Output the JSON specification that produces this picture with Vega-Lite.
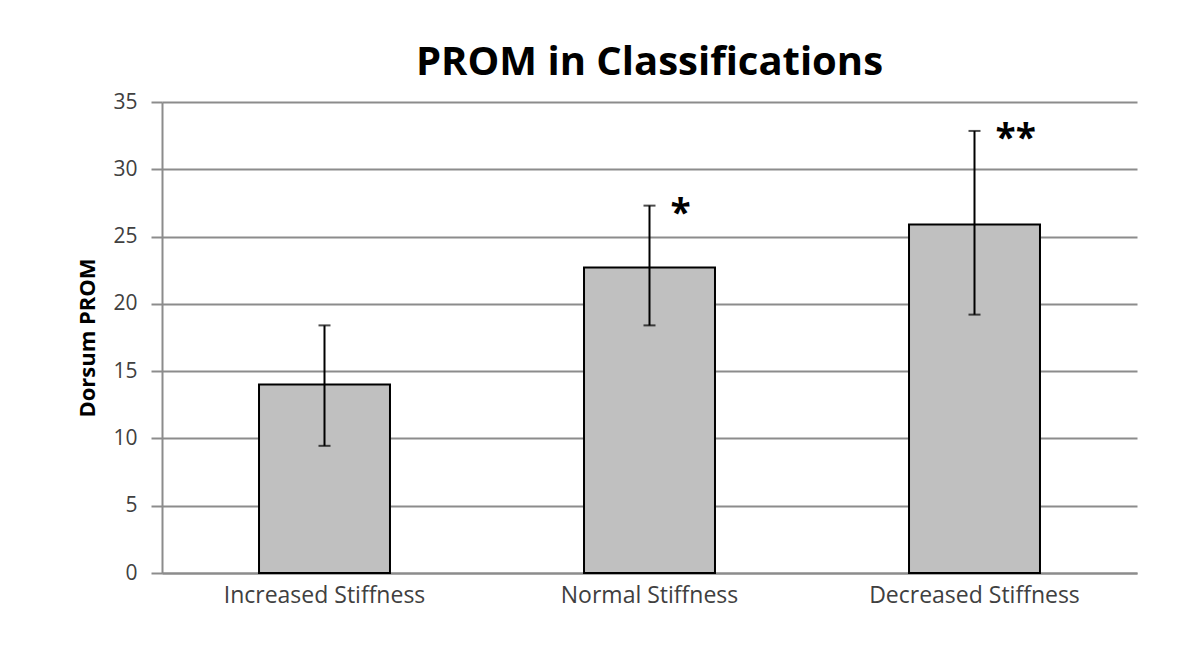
{
  "$schema": "https://vega.github.io/schema/vega-lite/v6.json",
  "width": 975,
  "height": 471,
  "autosize": {"type": "none"},
  "padding": {"left": 162, "top": 102, "right": 42, "bottom": 84},
  "background": "white",
  "title": {
    "text": "PROM in Classifications",
    "font": "Open Sans",
    "fontSize": 40,
    "fontWeight": "bold",
    "color": "#000000",
    "anchor": "middle",
    "offset": 8
  },
  "data": {
    "values": [
      {"cls": "Increased Stiffness", "mean": 14.0, "lo": 9.45, "hi": 18.4, "sig": ""},
      {"cls": "Normal Stiffness", "mean": 22.7, "lo": 18.4, "hi": 27.3, "sig": "*"},
      {"cls": "Decreased Stiffness", "mean": 25.9, "lo": 19.2, "hi": 32.85, "sig": "**"}
    ]
  },
  "encoding": {
    "x": {
      "field": "cls",
      "type": "nominal",
      "sort": null,
      "scale": {"paddingInner": 0.597, "paddingOuter": 0.2985},
      "axis": {
        "title": null,
        "labelAngle": 0,
        "labelFont": "Open Sans",
        "labelFontSize": 23,
        "labelLimit": 500,
        "labelColor": "#404040",
        "labelPadding": 11,
        "ticks": false,
        "domainColor": "#8c8c8c",
        "domainWidth": 2
      }
    }
  },
  "layer": [
    {
      "mark": {"type": "bar", "color": "#c0c0c0", "stroke": "#000000", "strokeWidth": 2},
      "encoding": {
        "y": {
          "field": "mean",
          "type": "quantitative",
          "scale": {"domain": [0, 35], "nice": false},
          "axis": {
            "title": "Dorsum PROM",
            "titleFont": "Open Sans",
            "titleFontSize": 22,
            "titleFontWeight": "bold",
            "titleColor": "#000000",
            "titlePadding": 13,
            "values": [0, 5, 10, 15, 20, 25, 30, 35],
            "labelFont": "Open Sans",
            "labelFontSize": 21,
            "labelColor": "#404040",
            "labelPadding": 14,
            "tickSize": 11,
            "tickColor": "#8c8c8c",
            "tickWidth": 2,
            "domainColor": "#8c8c8c",
            "domainWidth": 2,
            "grid": true,
            "gridColor": "#8c8c8c",
            "gridWidth": 2
          }
        }
      }
    },
    {
      "mark": {"type": "rule", "color": "#000000", "strokeWidth": 2},
      "encoding": {
        "y": {"field": "lo", "type": "quantitative"},
        "y2": {"field": "hi"}
      }
    },
    {
      "mark": {"type": "tick", "color": "#000000", "thickness": 2, "size": 12},
      "encoding": {"y": {"field": "hi", "type": "quantitative"}}
    },
    {
      "mark": {"type": "tick", "color": "#000000", "thickness": 2, "size": 12},
      "encoding": {"y": {"field": "lo", "type": "quantitative"}}
    },
    {
      "mark": {"type": "text", "font": "Open Sans", "fontSize": 37, "fontWeight": "bold", "align": "left", "baseline": "middle", "dx": 21, "dy": 9, "color": "#000000"},
      "encoding": {
        "y": {"field": "hi", "type": "quantitative"},
        "text": {"field": "sig"}
      }
    }
  ],
  "config": {"view": {"stroke": null}}
}
